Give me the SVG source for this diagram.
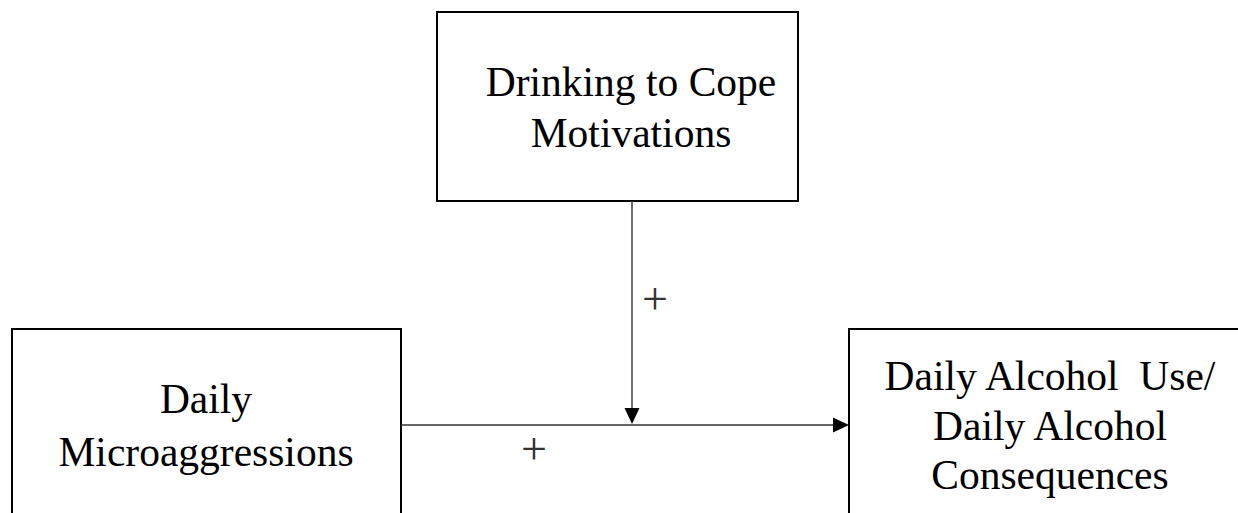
<svg xmlns="http://www.w3.org/2000/svg" width="1238" height="513" viewBox="0 0 1238 513">
  <defs>
    <style>
      .box { fill: #ffffff; stroke: #000000; stroke-width: 2; }
      .label { font-family: "Liberation Serif", "Times New Roman", serif; font-size: 41.5px; fill: #000000; text-anchor: middle; }
      .sign { font-family: "Liberation Serif", "Times New Roman", serif; font-size: 46px; fill: #333333; text-anchor: middle; }
      .link { fill: none; stroke: #333333; stroke-width: 1.4; }
      .head { fill: #000000; stroke: none; }
    </style>
  </defs>
  <rect width="1238" height="513" fill="#ffffff"/>

  <!-- moderator -->
  <g id="node-coping">
    <rect class="box" x="437" y="12" width="361" height="189"/>
    <text class="label" x="631" y="96">Drinking to Cope</text>
    <text class="label" x="631" y="147">Motivations</text>
  </g>

  <!-- predictor -->
  <g id="node-microaggressions">
    <rect class="box" x="12" y="329" width="389" height="230"/>
    <text class="label" x="206" y="413">Daily</text>
    <text class="label" x="206" y="466">Microaggressions</text>
  </g>

  <!-- outcome -->
  <g id="node-alcohol">
    <rect class="box" x="849" y="329" width="420" height="230"/>
    <text class="label" x="1050" y="390" xml:space="preserve">Daily Alcohol  Use/</text>
    <text class="label" x="1050" y="440">Daily Alcohol</text>
    <text class="label" x="1050" y="489">Consequences</text>
  </g>

  <!-- connectors -->
  <g id="connectors">
    <line class="link" x1="632" y1="201" x2="632" y2="410"/>
    <polygon class="head" points="624.5,408 639.5,408 632,424"/>
    <line class="link" x1="401" y1="425" x2="835" y2="425"/>
    <polygon class="head" points="833,417.5 833,432.5 849,425"/>
    <text class="sign" x="655" y="313.5">+</text>
    <text class="sign" x="534" y="463.5">+</text>
  </g>
</svg>
